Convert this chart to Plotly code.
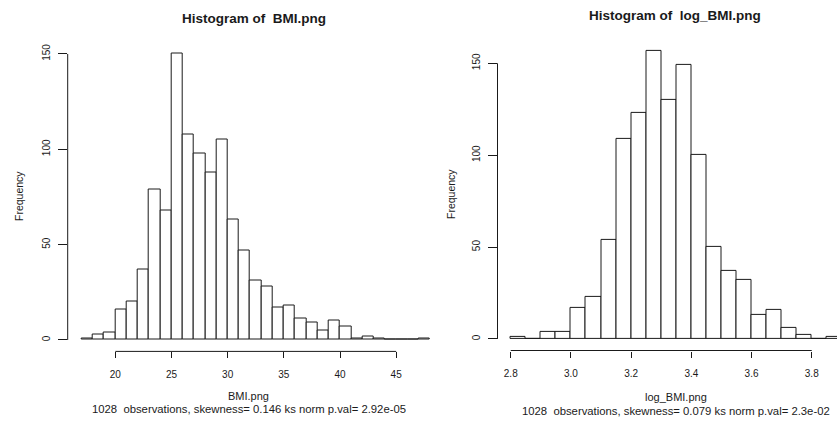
import plotly.graph_objects as go

# BMI histogram: unit-width bins from 17 to 48
bmi_breaks = list(range(17, 49))
bmi_counts = [1, 3, 4, 16, 20, 37, 79, 68, 150, 108, 98, 88, 105, 63, 47, 31,
              28, 17, 18, 11, 9, 5, 10, 7, 1, 2, 1, 0, 0, 0, 1]
bmi_xticks = [20, 25, 30, 35, 40, 45]

# log(BMI) histogram: bins of width 0.05 from 2.80 to 3.90
log_breaks = [round(2.80 + 0.05 * i, 2) for i in range(23)]
log_counts = [1, 0, 4, 4, 17, 23, 54, 109, 123, 157, 130, 149, 100, 50, 37, 32,
              13, 16, 6, 2, 0, 1]
log_xticks = [2.8, 3.0, 3.2, 3.4, 3.6, 3.8]
log_xticklabels = ["2.8", "3.0", "3.2", "3.4", "3.6", "3.8"]

freq_ticks = [0, 50, 100, 150]

W, H = 837, 421
FONT = "Liberation Sans, Arial, sans-serif"
INK = "#1a1a1a"


def px_x(p):
    return p / W


def px_y(p):
    return 1 - p / H


def bars(breaks, counts, xa, ya):
    centers = [(a + b) / 2 for a, b in zip(breaks[:-1], breaks[1:])]
    widths = [b - a for a, b in zip(breaks[:-1], breaks[1:])]
    return go.Bar(x=centers, y=counts, width=widths, xaxis=xa, yaxis=ya,
                  marker=dict(color="white", line=dict(color=INK, width=1)),
                  showlegend=False, hoverinfo="x+y")


fig = go.Figure()
fig.add_trace(bars(bmi_breaks, bmi_counts, "x", "y"))
fig.add_trace(bars(log_breaks, log_counts, "x2", "y2"))

axis_common = dict(showgrid=False, zeroline=False, showline=False,
                   ticks="outside", tickcolor=INK, tickwidth=1,
                   tickfont=dict(family=FONT, size=10, color=INK))

fig.update_layout(
    width=W, height=H,
    margin=dict(l=0, r=0, t=0, b=0),
    paper_bgcolor="white", plot_bgcolor="white",
    bargap=0,
    xaxis=dict(**axis_common, domain=[px_x(67.7), px_x(443.8)],
               range=[15.76, 49.24], tickvals=bmi_xticks, ticklen=6,
               ticklabelstandoff=8, anchor="y"),
    yaxis=dict(**axis_common, domain=[px_y(351.4), px_y(42.5)],
               range=[-6, 156], tickvals=freq_ticks, ticklen=9,
               tickangle=-90, ticklabelstandoff=4, anchor="x"),
    xaxis2=dict(**axis_common, domain=[px_x(497.5), 1.0],
                range=[2.756, 2.756 + (W - 497.5) / 301.0],
                tickvals=log_xticks, ticktext=log_xticklabels, ticklen=6,
                ticklabelstandoff=7, anchor="y2"),
    yaxis2=dict(**axis_common, domain=[px_y(350.5), px_y(38.9)],
                range=[-6.28, 163.28], tickvals=freq_ticks, ticklen=9,
                tickangle=-90, ticklabelstandoff=4, anchor="x2"),
)

# axis lines spanning only the first to last tick
line = dict(color=INK, width=1)
fig.add_shape(type="line", xref="x", yref="y domain", x0=bmi_xticks[0],
              x1=bmi_xticks[-1], y0=0, y1=0, line=line)
fig.add_shape(type="line", xref="x domain", yref="y", x0=0, x1=0,
              y0=freq_ticks[0], y1=freq_ticks[-1], line=line)
fig.add_shape(type="line", xref="x2", yref="y2 domain", x0=log_xticks[0],
              x1=log_xticks[-1], y0=0, y1=0, line=line)
fig.add_shape(type="line", xref="x2 domain", yref="y2", x0=0, x1=0,
              y0=freq_ticks[0], y1=freq_ticks[-1], line=line)


def label(text, x, y, size=10, bold=False, angle=0):
    fig.add_annotation(text=f"<b>{text}</b>" if bold else text,
                       x=px_x(x), y=px_y(y), xref="paper", yref="paper",
                       showarrow=False, xanchor="center", yanchor="middle",
                       textangle=angle,
                       font=dict(family=FONT, size=size, color=INK))


label("Histogram of \u00a0BMI.png", 254, 18.5, size=13.5, bold=True)
label("BMI.png", 248.5, 396, size=11)
label("1028 \u00a0observations, skewness= 0.146 ks norm p.val= 2.92e-05",
      248.5, 409, size=11.3)
label("Frequency", 18.5, 196.5, size=10.5, angle=-90)

label("Histogram of \u00a0log_BMI.png", 675, 15, size=13.5, bold=True)
label("log_BMI.png", 675.5, 397, size=11)
label("1028 \u00a0observations, skewness= 0.079 ks norm p.val= 2.3e-02",
      675.5, 410.5, size=11.3)
label("Frequency", 451, 194, size=10.5, angle=-90)

fig.write_html("out.html")
